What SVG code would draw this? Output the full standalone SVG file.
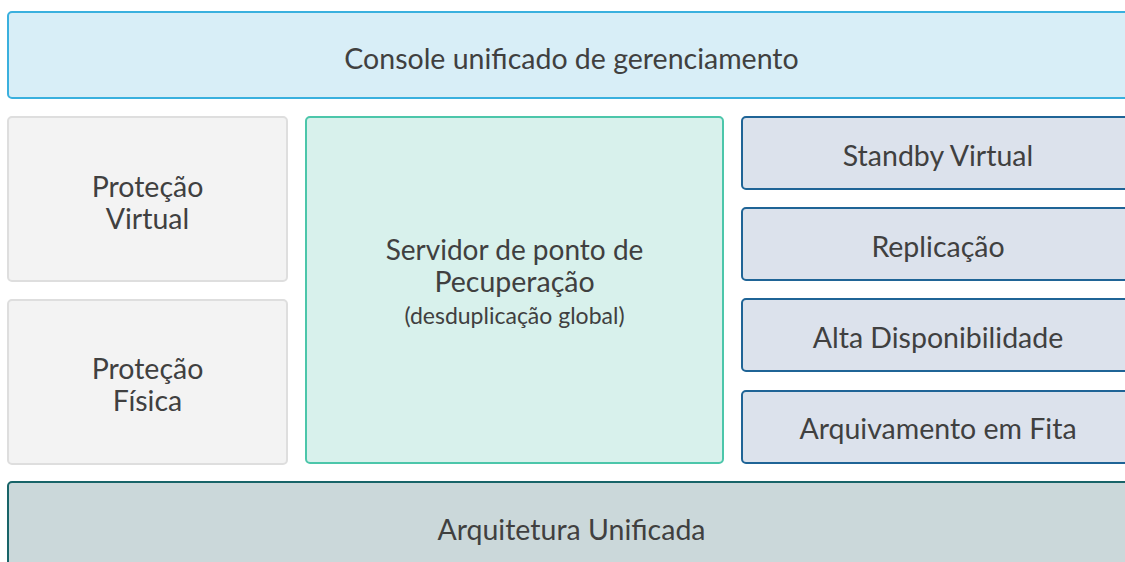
<svg xmlns="http://www.w3.org/2000/svg" width="1125" height="562" viewBox="0 0 1125 562">
<style>
text{font-family:Lato,"Open Sans","Liberation Sans",sans-serif;fill:#404040;text-anchor:middle;font-size:28.5px}
.sm{font-size:23px}
.top{fill:#d8eef7;stroke:#3ab0de;stroke-width:2}
.grey{fill:#f3f3f3;stroke:#dedede;stroke-width:2}
.mid{fill:#d8f1ec;stroke:#4cc6aa;stroke-width:2}
.blue{fill:#dce2ec;stroke:#1f6496;stroke-width:2}
.base{fill:#cbd8da;stroke:#186468;stroke-width:2}
</style>
<g id="console"><rect class="top" x="8" y="12" width="1127" height="86" rx="4"/><text x="571.5" y="69">Console unificado de gerenciamento</text></g>
<g id="protecao-virtual"><rect class="grey" x="8" y="117" width="279" height="164" rx="4"/><text x="147.5" y="197">Proteção</text><text x="147.5" y="229">Virtual</text></g>
<g id="protecao-fisica"><rect class="grey" x="8" y="300" width="279" height="164" rx="4"/><text x="147.5" y="379">Proteção</text><text x="147.5" y="411">Física</text></g>
<g id="servidor"><rect class="mid" x="306" y="117" width="417" height="346" rx="4"/><text x="514.5" y="259.5" style="font-size:28px">Servidor de ponto de</text><text x="514.5" y="292">Pecuperação</text><text class="sm" x="514.5" y="323.5">(desduplicação global)</text></g>
<g id="standby"><rect class="blue" x="742" y="117" width="392" height="72" rx="4"/><text x="938" y="165.5">Standby Virtual</text></g>
<g id="replicacao"><rect class="blue" x="742" y="208" width="392" height="72" rx="4"/><text x="938" y="256.5">Replicação</text></g>
<g id="alta"><rect class="blue" x="742" y="299" width="392" height="72" rx="4"/><text x="938" y="347.5">Alta Disponibilidade</text></g>
<g id="arquivamento"><rect class="blue" x="742" y="391" width="392" height="72" rx="4"/><text x="938" y="438.5">Arquivamento em Fita</text></g>
<g id="arquitetura"><rect class="base" x="8" y="482" width="1127" height="100" rx="4"/><text x="571.5" y="539.5">Arquitetura Unificada</text></g>
<g id="connectors"></g>
</svg>
